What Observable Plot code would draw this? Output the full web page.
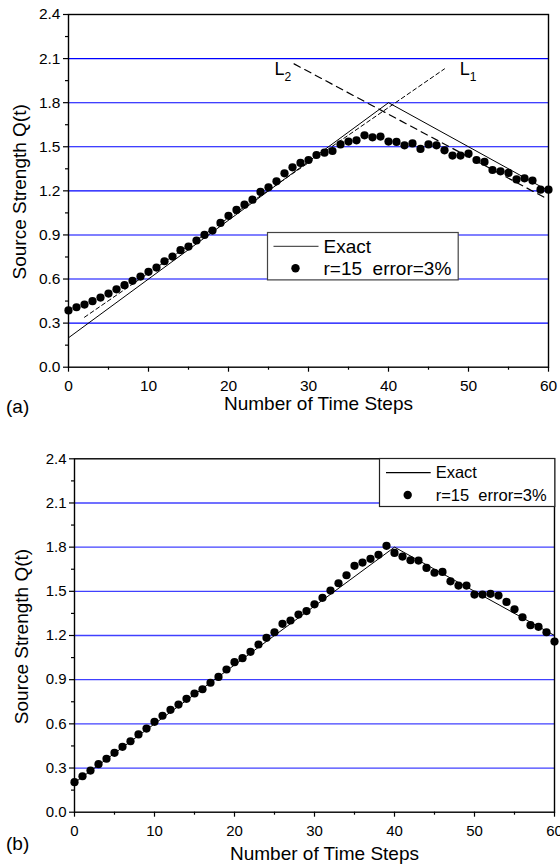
<!DOCTYPE html>
<html>
<head>
<meta charset="utf-8">
<script src="https://cdn.jsdelivr.net/npm/d3@7"></script>
<script src="https://cdn.jsdelivr.net/npm/@observablehq/plot@0.6"></script>
<style>
  html, body { margin: 0; padding: 0; background: #fff; }
  #root { position: relative; width: 560px; height: 865px; font-family: "Liberation Sans", Arial, sans-serif; color: #000; }
  .panel { position: absolute; left: 0; }
  .tag { position: absolute; font-size: 19px; line-height: 1; }
</style>
</head>
<body>
<div id="root"></div>
<script>
// ---- data ----
const steps = [0,1,2,3,4,5,6,7,8,9,10,11,12,13,14,15,16,17,18,19,20,21,22,23,24,25,26,27,28,29,30,
  31,32,33,34,35,36,37,38,39,40,41,42,43,44,45,46,47,48,49,50,51,52,53,54,55,56,57,58,59,60];
const qA = [0.386,0.408,0.426,0.449,0.474,0.501,0.530,0.558,0.588,0.617,
  0.649,0.678,0.721,0.753,0.796,0.821,0.862,0.900,0.930,0.982,
  1.030,1.070,1.106,1.140,1.193,1.224,1.265,1.319,1.360,1.390,
  1.410,1.444,1.460,1.471,1.516,1.535,1.544,1.578,1.564,1.569,
  1.535,1.533,1.510,1.523,1.485,1.516,1.510,1.476,1.440,1.440,
  1.453,1.410,1.397,1.342,1.333,1.322,1.278,1.285,1.270,1.208,1.208];
const qB = [0.204,0.244,0.283,0.326,0.363,0.403,0.444,0.482,0.528,0.568,
  0.614,0.655,0.695,0.731,0.770,0.806,0.835,0.879,0.919,0.969,
  1.019,1.046,1.089,1.139,1.184,1.222,1.279,1.302,1.342,1.366,
  1.412,1.456,1.505,1.555,1.609,1.673,1.695,1.721,1.748,1.809,
  1.761,1.736,1.711,1.709,1.659,1.626,1.632,1.568,1.539,1.539,
  1.478,1.478,1.483,1.471,1.428,1.378,1.324,1.270,1.259,1.222,1.159];
const exactT = [0, 40, 60];
const exactQ = [0.2, 1.8, 1.2];
const L1T = [2, 47];
const L1Q = [0.34, 2.03];
const L2T = [28.2, 59.5];
const L2Q = [2.064, 1.155];
const lineNames = ["L", "L"];
const lineSubs = ["1", "2"];
const lineLabelT = [48.9, 25.75];
const lineLabelQ = [2.013, 2.013];
const yMajor = [0, 0.3, 0.6, 0.9, 1.2, 1.5, 1.8, 2.1, 2.4];
const yMinor = [0.15, 0.45, 0.75, 1.05, 1.35, 1.65, 1.95, 2.25];
const yGrid = [0.3, 0.6, 0.9, 1.2, 1.5, 1.8, 2.1];
const xMajor = [0, 10, 20, 30, 40, 50, 60];
const xMinor = [5, 15, 25, 35, 45, 55];
const xTitle = "Number of Time Steps";
const yTitle = "Source Strength Q(t)";
const legendLabels = ["Exact", "r=15\u00a0\u00a0error=3%"];
const panelTags = ["(a)", "(b)"];

const FONT = '"Liberation Sans", Arial, sans-serif';
const toRows = (xs, ys) => xs.map((x, i) => ({x, y: ys[i]}));

function panel(cfg) {
  const marks = [
    Plot.ruleY(yGrid, {stroke: cfg.grid, strokeWidth: cfg.gridW}),
    Plot.line(toRows(exactT, exactQ), {x: "x", y: "y", stroke: "#000", strokeWidth: 1})
  ];
  if (cfg.fits) {
    marks.push(Plot.line(toRows(L1T, L1Q), {x: "x", y: "y", stroke: "#000", strokeWidth: 1, strokeDasharray: "4,3"}));
    marks.push(Plot.line(toRows(L2T, L2Q), {x: "x", y: "y", stroke: "#000", strokeWidth: 1.2, strokeDasharray: "7,5"}));
    const lab = lineNames.map((n, i) => ({t: lineLabelT[i], q: lineLabelQ[i], n, s: lineSubs[i]}));
    marks.push(Plot.text(lab, {x: "t", y: "q", text: "n", textAnchor: "start", lineAnchor: "bottom", fontSize: 18, fill: "#000", dy: 4}));
    marks.push(Plot.text(lab, {x: "t", y: "q", text: "s", textAnchor: "start", lineAnchor: "bottom", fontSize: 12, fill: "#000", dx: 10, dy: 10}));
  }
  marks.push(
    Plot.dot(toRows(steps, cfg.q), {x: "x", y: "y", r: 4.1, fill: "#000", stroke: "none"}),
    Plot.frame({stroke: "#000", strokeWidth: 1.4}),
    Plot.axisY(yMajor, {tickSize: 5, tickPadding: 3, tickFormat: d3.format(".1f"), fontSize: cfg.tickFont, label: null, strokeWidth: 1.2}),
    Plot.axisY(yMinor, {tickSize: 3, tickFormat: () => "", label: null, strokeWidth: 1.2}),
    Plot.axisX(xMajor, {tickSize: 5, tickPadding: 8, tickFormat: d3.format("d"), fontSize: cfg.tickFont, label: null, strokeWidth: 1.2}),
    Plot.axisX(xMinor, {tickSize: 3, tickFormat: () => "", label: null, strokeWidth: 1.2}),
    Plot.text([xTitle], {frameAnchor: "bottom", textAnchor: "middle", dx: 10, dy: cfg.xTitleDy, fontSize: 19, lineAnchor: "middle", fill: "#000"}),
    Plot.text([yTitle], {frameAnchor: "left", textAnchor: "middle", dx: cfg.yTitleDx, dy: 1, rotate: -90, fontSize: 19, lineAnchor: "middle", fill: "#000"})
  );
  return Plot.plot({
    width: 560,
    height: cfg.height,
    marginTop: cfg.mt,
    marginBottom: cfg.mb,
    marginLeft: cfg.ml,
    marginRight: cfg.mr,
    x: {domain: [0, 60], label: null},
    y: {domain: [0, 2.4], label: null},
    style: {fontFamily: FONT, fontSize: "16px", background: "#fff", overflow: "visible", color: "#000"},
    marks
  });
}

const root = document.getElementById("root");

const a = panel({q: qA, fits: true, height: 425, mt: 14, mb: 58.3, ml: 68, mr: 12,
  grid: "#0000ff", gridW: 1.1, tickFont: 15.5, xTitleDy: 37, yTitleDx: -49});
a.classList.add("panel"); a.style.top = "0px";
root.appendChild(a);

const b = panel({q: qB, fits: false, height: 440, mt: 33.3, mb: 53.3, ml: 74, mr: 6,
  grid: "#4040ff", gridW: 1.3, tickFont: 15, xTitleDy: 41.5, yTitleDx: -53});
b.classList.add("panel"); b.style.top = "425px";
root.appendChild(b);

// legends
function legend(box) {
  const svg = d3.select(root).append("svg")
    .attr("width", box.w).attr("height", box.h)
    .style("position", "absolute").style("left", box.x + "px").style("top", box.y + "px")
    .style("overflow", "visible");
  svg.append("rect").attr("x", 0.5).attr("y", 0.5).attr("width", box.w - 1).attr("height", box.h - 1)
    .attr("fill", "#fff").attr("stroke", box.border).attr("stroke-width", 1.2);
  svg.append("line").attr("x1", box.lx1).attr("x2", box.lx2).attr("y1", box.ly).attr("y2", box.ly)
    .attr("stroke", box.lineColor).attr("stroke-width", 1.2);
  svg.append("circle").attr("cx", box.dx).attr("cy", box.dy).attr("r", 4.2).attr("fill", "#000");
  svg.append("text").attr("x", box.tx).attr("y", box.ly).attr("dy", "0.35em")
    .attr("font-family", FONT).attr("font-size", box.fs).text(legendLabels[0]);
  svg.append("text").attr("x", box.tx).attr("y", box.dy).attr("dy", "0.35em")
    .attr("font-family", FONT).attr("font-size", box.fs).text(legendLabels[1]);
}
legend({x: 266.7, y: 232.3, w: 191.7, h: 48.4, border: "#444", lineColor: "#555",
  lx1: 6.5, lx2: 51.5, ly: 14.4, dx: 28.5, dy: 36.2, tx: 56.5, fs: 19});
legend({x: 379, y: 458.3, w: 176.3, h: 49, border: "#222", lineColor: "#000",
  lx1: 7, lx2: 51.7, ly: 14.6, dx: 28.7, dy: 37, tx: 56.7, fs: 16.5});

// panel tags
panelTags.forEach((t, i) => {
  const d = document.createElement("div");
  d.className = "tag";
  d.textContent = t;
  d.style.left = "6px";
  d.style.top = (i === 0 ? 397 : 834) + "px";
  root.appendChild(d);
});
</script>
</body>
</html>
